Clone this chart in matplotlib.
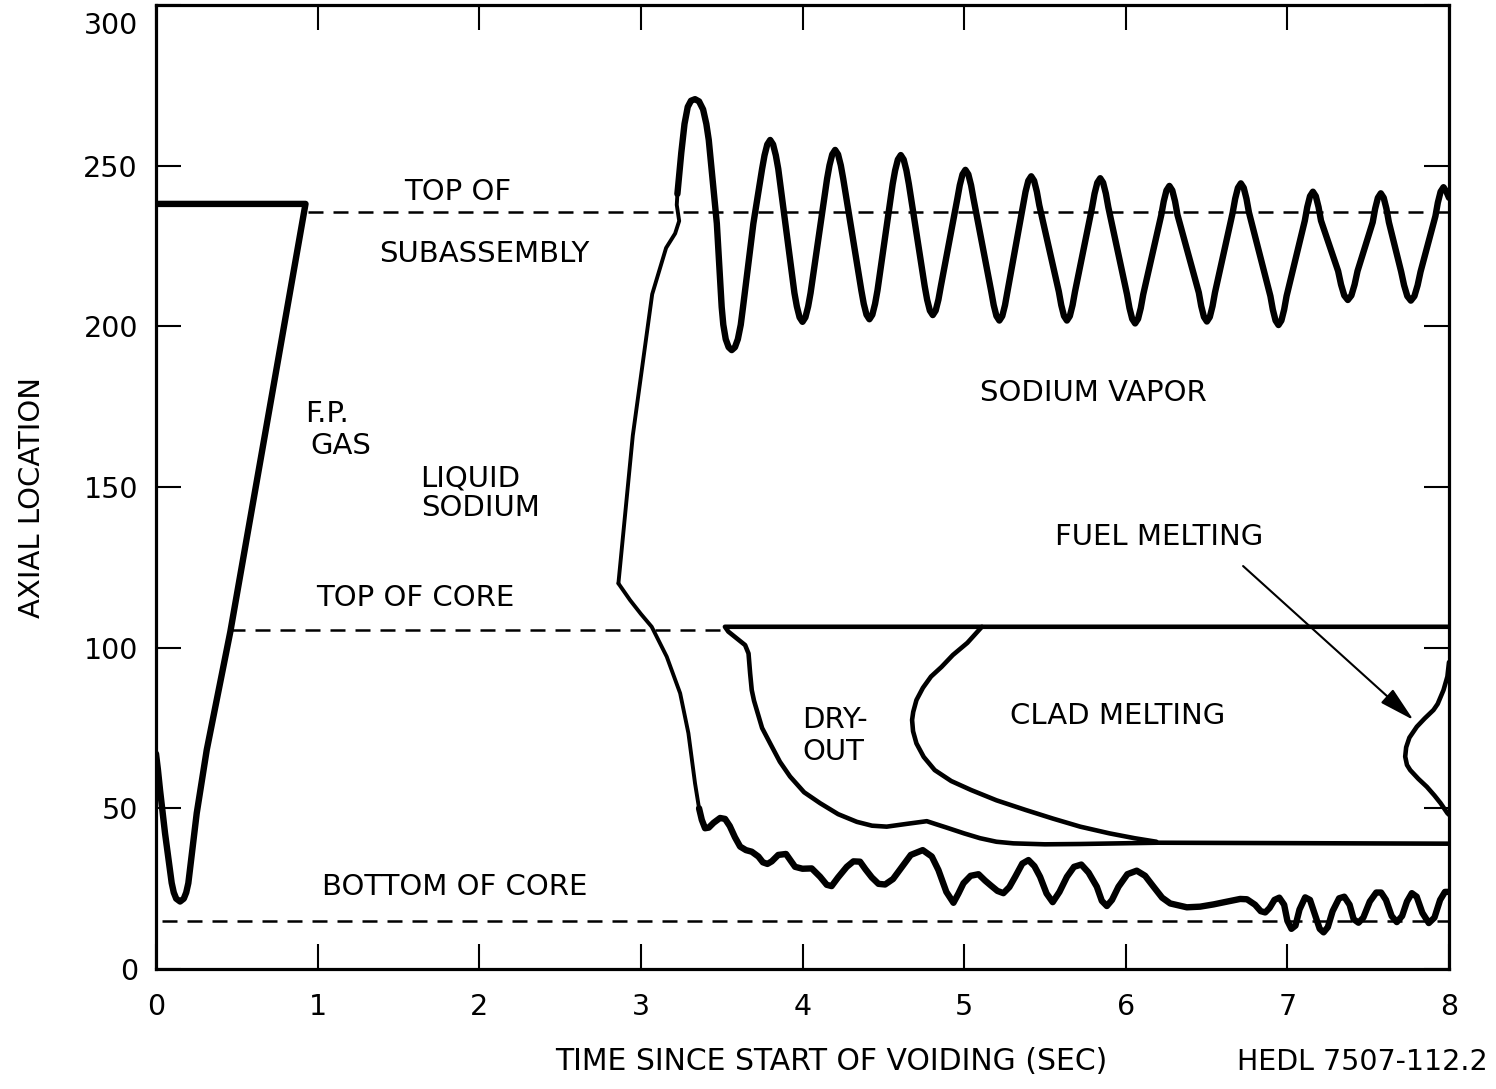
import matplotlib
matplotlib.use("Agg")
import matplotlib.pyplot as plt

plt.rcParams['font.family'] = ['DejaVu Sans']

# ---- axis layout values ----
x_ticks = [0, 1, 2, 3, 4, 5, 6, 7, 8]
x_tick_labels = ['0', '1', '2', '3', '4', '5', '6', '7', '8']
y_ticks = [0, 50, 100, 150, 200, 250, 300]
y_tick_labels = ['0', '50', '100', '150', '200', '250', '300']

# ---- reference levels (dashed) ----
top_subassembly_y = 235.5
top_subassembly_x = [0.94, 8.0]
top_core_y = 105.5
top_core_x = [0.46, 3.52]
bottom_core_y = 15.0
bottom_core_x = [0.04, 8.0]

# ---- fission-gas / liquid sodium boundary (left wedge) ----
fp_gas_x = [0.0, 0.012, 0.025, 0.056, 0.097, 0.11, 0.125, 0.149, 0.172, 0.187, 0.20,
            0.252, 0.314, 0.46, 0.925, 0.0]
fp_gas_y = [67.0, 62.0, 55.7, 42.2, 26.8, 23.8, 21.9, 21.0, 21.9, 23.8, 26.7,
            48.5, 68.2, 105.0, 238.1, 238.1]
fp_fork_x = [0.0, 0.022]
fp_fork_y = [57.5, 56.0]

# ---- upper liquid/vapor interface: initial rise ----
rise_x = [2.861, 2.95, 3.07, 3.156, 3.212, 3.237, 3.222, 3.226]
rise_y = [120.0, 166.0, 210.0, 224.4, 228.9, 232.8, 237.8, 241.2]

# ---- upper liquid/vapor interface: oscillation ----
osc_x = [3.226, 3.25, 3.27, 3.29, 3.31, 3.335, 3.36, 3.385, 3.405, 3.42, 3.47,
         3.50, 3.51, 3.525, 3.543, 3.562, 3.582, 3.60, 3.618, 3.632, 3.696,
         3.75, 3.765, 3.782, 3.80, 3.818, 3.835, 3.85,
         3.95, 3.965, 3.982, 4.00, 4.018, 4.035, 4.05,
         4.152, 4.167, 4.184, 4.202, 4.22, 4.237, 4.252,
         4.364, 4.379, 4.396, 4.414, 4.432, 4.449, 4.464,
         4.558, 4.573, 4.59, 4.608, 4.626, 4.643, 4.658,
         4.756, 4.771, 4.788, 4.806, 4.824, 4.841, 4.856,
         4.958, 4.973, 4.99, 5.008, 5.026, 5.043, 5.058,
         5.168, 5.183, 5.20, 5.218, 5.236, 5.253, 5.268,
         5.365, 5.38, 5.397, 5.415, 5.433, 5.45, 5.465,
         5.586, 5.601, 5.618, 5.636, 5.654, 5.671, 5.686,
         5.792, 5.807, 5.824, 5.842, 5.86, 5.877, 5.892,
         6.008, 6.023, 6.04, 6.058, 6.076, 6.093, 6.108,
         6.22, 6.235, 6.252, 6.27, 6.288, 6.305, 6.32,
         6.452, 6.467, 6.484, 6.502, 6.52, 6.537, 6.552,
         6.662, 6.677, 6.694, 6.712, 6.73, 6.747, 6.762,
         6.895, 6.91, 6.927, 6.945, 6.963, 6.98, 6.995,
         7.108, 7.123, 7.14, 7.158, 7.176, 7.193, 7.208,
         7.314, 7.332, 7.352, 7.374, 7.396, 7.416, 7.434,
         7.528, 7.543, 7.56, 7.578, 7.596, 7.613, 7.628,
         7.704, 7.722, 7.742, 7.764, 7.786, 7.806, 7.824,
         7.916, 7.931, 7.948, 7.966, 7.984, 8.0]
osc_y = [241.2, 254.0, 263.0, 268.3, 270.2, 270.7, 270.0, 267.5, 263.0, 258.0, 232.0,
         206.0, 200.5, 196.0, 193.5, 192.6, 193.5, 196.0, 200.5, 206.0, 232.0,
         249.0, 253.2, 256.6, 258.0, 256.6, 253.2, 249.0,
         210.4, 206.2, 202.8, 201.4, 202.8, 206.2, 210.4,
         245.9, 250.1, 253.5, 254.9, 253.5, 250.1, 245.9,
         211.2, 207.0, 203.6, 202.2, 203.6, 207.0, 211.2,
         244.3, 248.5, 251.9, 253.3, 251.9, 248.5, 244.3,
         212.5, 208.3, 204.9, 203.5, 204.9, 208.3, 212.5,
         239.7, 243.9, 247.3, 248.7, 247.3, 243.9, 239.7,
         210.8, 206.6, 203.2, 201.8, 203.2, 206.6, 210.8,
         237.7, 241.9, 245.3, 246.7, 245.3, 241.9, 237.7,
         210.8, 206.6, 203.2, 201.8, 203.2, 206.6, 210.8,
         237.1, 241.3, 244.7, 246.1, 244.7, 241.3, 237.1,
         209.9, 205.7, 202.3, 200.9, 202.3, 205.7, 209.9,
         234.7, 238.9, 242.3, 243.7, 242.3, 238.9, 234.7,
         210.5, 206.3, 202.9, 201.5, 202.9, 206.3, 210.5,
         235.5, 239.7, 243.1, 244.5, 243.1, 239.7, 235.5,
         209.4, 205.2, 201.8, 200.4, 201.8, 205.2, 209.4,
         232.9, 237.1, 240.5, 241.9, 240.5, 237.1, 232.9,
         217.2, 213.0, 209.6, 208.2, 209.6, 213.0, 217.2,
         232.4, 236.6, 240.0, 241.4, 240.0, 236.6, 232.4,
         217.0, 212.8, 209.4, 208.0, 209.4, 212.8, 217.0,
         234.3, 238.5, 241.9, 243.3, 241.9, 240.0]

# ---- lower liquid/vapor interface: initial drop ----
drop_x = [2.861, 2.933, 3.0, 3.067, 3.16, 3.243, 3.294, 3.335, 3.36]
drop_y = [120.0, 114.8, 110.5, 106.5, 97.2, 85.8, 73.4, 57.8, 50.0]

# ---- lower liquid/vapor interface: film oscillation ----
film_x = [3.36, 3.377, 3.397, 3.42, 3.45, 3.49, 3.521, 3.55, 3.582, 3.614, 3.65, 3.686,
          3.727, 3.755, 3.783, 3.81, 3.85, 3.898, 3.93, 3.954, 4.0, 4.057, 4.109, 4.15,
          4.18, 4.22, 4.274, 4.315, 4.356, 4.39, 4.429, 4.47, 4.511, 4.56, 4.604, 4.67,
          4.744, 4.80, 4.841, 4.89, 4.934, 4.965, 4.996, 5.04, 5.089, 5.13, 5.165,
          5.206, 5.243, 5.28, 5.316, 5.36, 5.398, 5.435, 5.47, 5.51, 5.548, 5.59, 5.636,
          5.68, 5.725, 5.77, 5.821, 5.852, 5.883, 5.915, 5.955, 6.01, 6.068, 6.12,
          6.172, 6.225, 6.275, 6.378, 6.46, 6.543, 6.62, 6.708, 6.75, 6.80, 6.835,
          6.863, 6.89, 6.92, 6.95, 6.98, 7.00, 7.025, 7.05, 7.075, 7.11, 7.14, 7.17,
          7.20, 7.224, 7.25, 7.28, 7.32, 7.352, 7.385, 7.41, 7.44, 7.47, 7.51, 7.55,
          7.58, 7.61, 7.645, 7.677, 7.71, 7.74, 7.77, 7.80, 7.835, 7.875, 7.91, 7.945,
          7.975, 8.0]
film_y = [50.0, 46.4, 43.8, 44.0, 45.5, 47.0, 46.7, 44.5, 41.0, 38.1, 37.0, 36.5,
          35.0, 33.2, 32.7, 33.5, 35.5, 35.8, 33.5, 31.8, 31.2, 31.3, 28.7, 26.2,
          25.8, 28.5, 31.8, 33.5, 33.4, 31.0, 28.5, 26.5, 26.3, 28.0, 31.0, 35.5,
          37.0, 35.0, 30.8, 24.0, 20.6, 23.5, 26.7, 29.0, 29.5, 27.5, 26.0,
          24.3, 23.6, 25.5, 28.7, 32.8, 33.9, 32.0, 28.7, 23.5, 20.8, 24.0, 28.7,
          31.8, 32.5, 30.0, 25.6, 21.2, 19.6, 21.5, 25.6, 29.5, 30.6, 29.0,
          25.6, 22.2, 20.4, 19.2, 19.4, 20.1, 20.9, 21.8, 21.7, 20.0, 18.0,
          17.6, 19.0, 21.5, 22.2, 20.0, 15.0, 12.5, 13.5, 18.5, 22.3, 21.5, 17.0,
          12.5, 11.4, 13.0, 18.0, 22.0, 22.5, 20.0, 15.5, 14.4, 16.0, 21.0, 23.8,
          23.8, 21.5, 16.5, 14.6, 16.5, 21.0, 23.6, 22.5, 17.5, 14.3, 16.0, 21.5,
          24.0, 24.0]

# ---- dry-out boundary (top of core line, dry-out front, bottom line) ----
dryout_x = [8.0, 3.52, 3.541, 3.593, 3.645, 3.666, 3.676, 3.686, 3.70, 3.717, 3.75,
            3.80, 3.86, 3.923, 4.01, 4.109, 4.22, 4.336, 4.43, 4.521, 4.65, 4.769,
            4.83, 4.892, 5.0, 5.099, 5.2, 5.305, 5.5, 5.718, 6.2, 8.0]
dryout_y = [106.5, 106.5, 105.0, 102.9, 100.8, 98.2, 92.0, 86.8, 83.5, 80.6, 75.0,
            70.2, 64.5, 59.9, 55.0, 51.6, 48.2, 45.8, 44.6, 44.3, 45.2, 46.0,
            45.0, 44.0, 42.2, 40.7, 39.6, 39.1, 38.8, 38.9, 39.3, 39.0]

# ---- clad melting boundary ----
clad_x = [5.11, 5.02, 4.93, 4.86, 4.795, 4.745, 4.705, 4.685, 4.678, 4.684, 4.705,
          4.75, 4.818, 4.92, 5.043, 5.2, 5.38, 5.55, 5.718, 5.9, 6.055, 6.19]
clad_y = [106.5, 101.5, 97.7, 94.0, 91.0, 87.5, 83.7, 80.0, 77.5, 74.0, 70.2,
          66.0, 61.9, 58.5, 55.7, 52.5, 49.5, 46.8, 44.3, 42.2, 40.7, 39.6]

# ---- fuel melting boundary ----
fuel_x = [8.0, 7.99, 7.966, 7.93, 7.904, 7.85, 7.801, 7.755, 7.735, 7.729, 7.74,
          7.76, 7.81, 7.863, 7.91, 7.948, 7.99, 8.0]
fuel_y = [95.5, 91.0, 86.8, 82.5, 80.6, 78.0, 75.4, 72.0, 69.0, 66.1, 63.5,
          61.9, 59.2, 56.7, 54.0, 51.6, 48.5, 48.0]

# ---- region labels ----
region_labels = ['TOP OF', 'SUBASSEMBLY', 'F.P.', 'GAS', 'LIQUID', 'SODIUM',
                 'TOP OF CORE', 'BOTTOM OF CORE', 'SODIUM VAPOR', 'FUEL MELTING',
                 'CLAD MELTING']
region_x = [1.869, 2.03, 1.058, 1.145, 1.943, 2.011, 1.603, 1.85, 5.798, 6.207, 5.95]
region_y = [241.8, 222.5, 172.7, 162.8, 152.5, 143.5, 115.5, 25.5, 179.3, 134.5, 78.7]

dryout_label_lines = ['DRY-', 'OUT']
dryout_label_x = 4.0
dryout_label_y = [77.5, 67.5]

arrow_start = (6.726, 125.4)
arrow_tip = (7.78, 77.5)

# ---------------------------------------------------------------------------
fig = plt.figure(figsize=(14.96, 10.89), dpi=100)
ax = fig.add_axes([156 / 1496, 1 - 969 / 1089, (1449 - 156) / 1496, (969 - 5) / 1089])

ax.set_xlim(0, 8)
ax.set_ylim(0, 300)

thick = 4.6
medium = 3.3
thin = 2.8
kw = dict(color='black', solid_joinstyle='round', solid_capstyle='round')

# dashed reference levels
dash_kw = dict(color='black', lw=1.8, dashes=(6, 4))
ax.plot(top_subassembly_x, [top_subassembly_y] * 2, **dash_kw)
ax.plot(top_core_x, [top_core_y] * 2, **dash_kw)
ax.plot(bottom_core_x, [bottom_core_y] * 2, **dash_kw)

ax.plot(fp_gas_x, fp_gas_y, lw=thick, **kw)
ax.plot(fp_fork_x, fp_fork_y, lw=medium, **kw)
ax.plot(rise_x, rise_y, lw=thin, **kw)
ax.plot(osc_x, osc_y, lw=thick, **kw)
ax.plot(drop_x, drop_y, lw=thin, **kw)
ax.plot(film_x, film_y, lw=thick, **kw)
ax.plot(dryout_x, dryout_y, lw=medium, **kw)
ax.plot(clad_x, clad_y, lw=medium, **kw)
ax.plot(fuel_x, fuel_y, lw=medium, **kw)

text_size = 21
for label, tx, ty in zip(region_labels, region_x, region_y):
    ax.text(tx, ty, label, ha='center', va='center', fontsize=text_size)
for line, ty in zip(dryout_label_lines, dryout_label_y):
    ax.text(dryout_label_x, ty, line, ha='left', va='center', fontsize=text_size)

ax.annotate('', xy=arrow_tip, xytext=arrow_start,
            arrowprops=dict(arrowstyle='-|>,head_length=1.1,head_width=0.28',
                            color='black', lw=1.5, mutation_scale=20,
                            shrinkA=0, shrinkB=0))

# axes frame and ticks
tick_size = 20.5
for sp in ax.spines.values():
    sp.set_linewidth(2.3)
ax.set_xticks(x_ticks)
ax.set_xticklabels(x_tick_labels, fontsize=tick_size)
ax.set_yticks(y_ticks)
ax.set_yticklabels(y_tick_labels[:-1] + [''], fontsize=tick_size)
ax.tick_params(axis='both', direction='in', length=18, width=1.5,
               top=True, right=True, colors='black')
ax.tick_params(axis='x', pad=17)
ax.tick_params(axis='y', pad=13)
ax.annotate(y_tick_labels[-1], xy=(0, y_ticks[-1]), xytext=(-13, -15),
            textcoords='offset points', ha='right', va='center', fontsize=tick_size)

fig.text(32 / 1496, 1 - 497 / 1089, 'AXIAL LOCATION', rotation=90,
         ha='center', va='center', fontsize=21)
fig.text(831 / 1496, 1 - 1062 / 1089, 'TIME SINCE START OF VOIDING (SEC)',
         ha='center', va='center', fontsize=21.5)
fig.text(1362 / 1496, 1 - 1062 / 1089, 'HEDL 7507-112.2',
         ha='center', va='center', fontsize=20.5)

fig.savefig('out.png', dpi=100)
